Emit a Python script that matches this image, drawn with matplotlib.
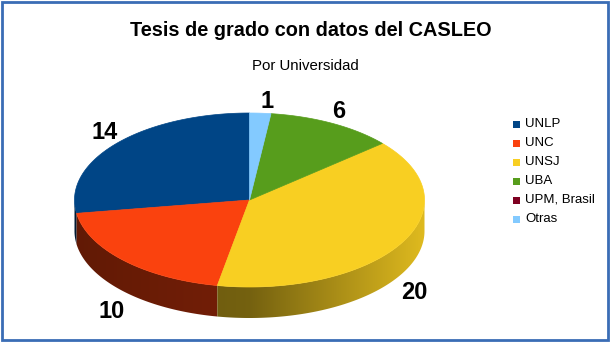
import matplotlib.pyplot as plt
import numpy as np
from matplotlib.patches import Polygon
from matplotlib.colors import to_rgb

plt.rcParams['font.family'] = ['Liberation Sans', 'DejaVu Sans']

# data (LibreOffice series order, drawn counterclockwise from the top)
universidades = ['UNLP', 'UNC', 'UNSJ', 'UBA', 'UPM, Brasil', 'Otras']
tesis = [14, 10, 20, 6, 0, 1]
colores = ['#004586', '#fa420e', '#f8cf22', '#579d1c', '#7e0021', '#83caff']

titulo = 'Tesis de grado con datos del CASLEO'
subtitulo = 'Por Universidad'

fig = plt.figure(figsize=(6.1, 3.44), dpi=100)
ax = fig.add_axes([0, 0, 1, 1])
ax.set_xlim(0, 610)
ax.set_ylim(344, 0)
ax.axis('off')

# border around the chart
fig.patches.append(plt.Rectangle((0.003, 0.012), 0.993, 0.983, transform=fig.transFigure,
                                 fill=False, edgecolor='#3a6db5', linewidth=2))

cx, cy = 249.5, 200       # centre of the top face
a, b = 175, 87            # ellipse semi axes
depth = 31


def punto(phi, dy=0):
    # phi counterclockwise from top, degrees
    r = np.radians(phi)
    return cx - a * np.sin(r), cy - b * np.cos(r) + dy


def sombra(s):
    # s = horizontal component of the wall normal (-1 left .. 1 right)
    return np.where(s > 0, 0.47 + 0.43 * s, 0.47 + 0.08 * s)


total = sum(tesis)
angulos = np.concatenate([[0], np.cumsum(tesis) / total * 360])

# side wall (front half only: 90..270), gradient clipped to each wall
for i, v in enumerate(tesis):
    if v == 0:
        continue
    a0, a1 = max(angulos[i], 90), min(angulos[i + 1], 270)
    if a1 <= a0:
        continue
    ph = np.linspace(a0, a1, 200)
    arriba = [punto(p) for p in ph]
    abajo = [punto(p, depth) for p in ph[::-1]]
    pared = Polygon(arriba + abajo, closed=True, facecolor='none', edgecolor='none')
    ax.add_patch(pared)
    xs = np.array([p[0] for p in arriba])
    x0, x1 = xs.min() - 1, xs.max() + 1
    xg = np.linspace(x0, x1, 400)
    s = np.clip((xg - cx) / a, -1, 1)
    base = np.array(to_rgb(colores[i]))
    img = np.clip(base[None, None, :] * sombra(s)[None, :, None], 0, 1)
    ys = [p[1] for p in arriba + abajo]
    im = ax.imshow(img, extent=(x0, x1, max(ys) + 1, min(ys) - 1), aspect='auto',
                   interpolation='bilinear', zorder=1)
    im.set_clip_path(pared)

# top face
for i, v in enumerate(tesis):
    if v == 0:
        continue
    ph = np.linspace(angulos[i], angulos[i + 1], max(int((angulos[i + 1] - angulos[i]) * 2), 2))
    pts = [(cx, cy)] + [punto(p) for p in ph]
    ax.add_patch(Polygon(pts, closed=True, facecolor=colores[i], edgecolor=colores[i],
                         linewidth=0.5, zorder=2))

ax.set_xlim(0, 610)
ax.set_ylim(344, 0)

# value labels
for i, v in enumerate(tesis):
    if v == 0:
        continue
    mid = np.radians((angulos[i] + angulos[i + 1]) / 2)
    dx, dy = -np.sin(mid), -np.cos(mid)
    x = cx + a * 1.0 * dx + (0 if dx > 0 else 1)
    if dy < 0:
        y = cy + b * 1.03 * dy + 2
    else:
        y = cy + b * 1.13 * dy + depth + 1
    ha = 'left' if dx > 0 else 'right'
    va = 'bottom' if dy < 0 else 'top'
    ax.text(x, y, str(v), fontsize=17, fontweight='bold', ha=ha, va=va, color='black', zorder=3)

# titles
ax.text(310.5, 30, titulo, fontsize=14.3, fontweight='bold', ha='center', va='center')
ax.text(305, 66, subtitulo, fontsize=10.8, ha='center', va='center')

# legend
for i, nombre in enumerate(universidades):
    y = 124 + i * 19
    ax.add_patch(plt.Rectangle((513, y - 3.5), 7, 7, facecolor=colores[i], edgecolor='none'))
    ax.text(525, y, nombre, fontsize=9.5, ha='left', va='center')

fig.savefig('out.png', dpi=100)
